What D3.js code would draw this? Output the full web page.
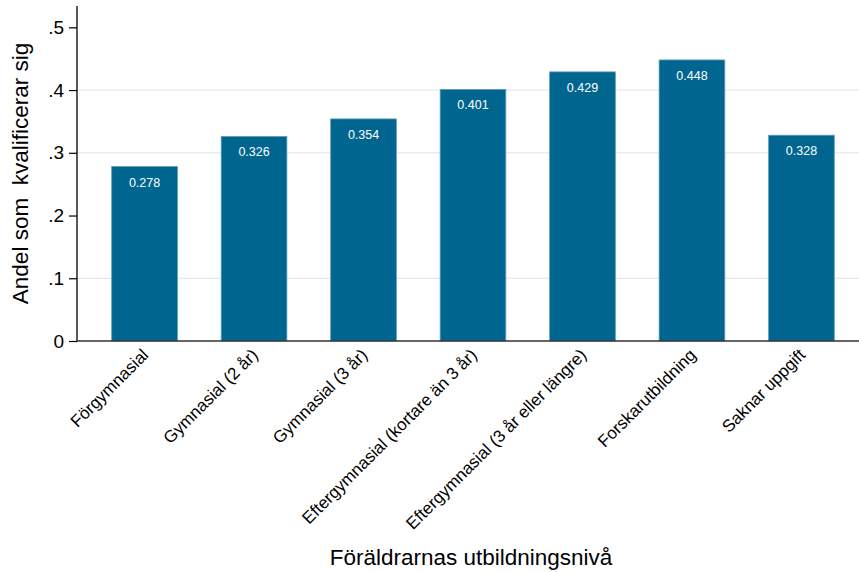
<!DOCTYPE html>
<html>
<head>
<meta charset="utf-8">
<script src="https://cdn.jsdelivr.net/npm/d3@7"></script>
<style>
  body { margin: 0; background: #fff; }
  text { font-family: "Liberation Sans", Arial, sans-serif; }
</style>
</head>
<body>
<script>
// data
const categories = [
  "Förgymnasial",
  "Gymnasial (2 år)",
  "Gymnasial (3 år)",
  "Eftergymnasial (kortare än 3 år)",
  "Eftergymnasial (3 år eller längre)",
  "Forskarutbildning",
  "Saknar uppgift"
];
const values = [0.278, 0.326, 0.354, 0.401, 0.429, 0.448, 0.328];
const yTicks = [0, 0.1, 0.2, 0.3, 0.4, 0.5];
const gridTicks = [0.1, 0.3, 0.4];

const W = 859, H = 572;
const mLeft = 77, mBottom = 341, mTop = 6;

const svg = d3.select("body").append("svg")
  .attr("width", W)
  .attr("height", H);

const x = d3.scaleBand()
  .domain(categories)
  .range([mLeft, 869])
  .paddingInner(0.4)
  .paddingOuter(0.317);

const y = d3.scaleLinear()
  .domain([0, 0.534])
  .range([mBottom, mTop]);

// grid lines
svg.append("g").selectAll("line")
  .data(gridTicks)
  .join("line")
  .attr("x1", mLeft).attr("x2", W)
  .attr("y1", d => y(d)).attr("y2", d => y(d))
  .attr("stroke", "#e2e2e2")
  .attr("stroke-width", 1);

// bars
svg.append("g").selectAll("rect")
  .data(values)
  .join("rect")
  .attr("x", (d, i) => x(categories[i]))
  .attr("y", d => y(d))
  .attr("width", x.bandwidth())
  .attr("height", d => mBottom - y(d))
  .attr("fill", "#00668f")
  .attr("stroke", "#5c9cbc")
  .attr("stroke-width", 0.8);

// value labels
svg.append("g").selectAll("text")
  .data(values)
  .join("text")
  .attr("x", (d, i) => x(categories[i]) + x.bandwidth() / 2)
  .attr("y", d => y(d) + 20)
  .attr("text-anchor", "middle")
  .attr("font-size", 12.5)
  .attr("fill", "#ffffff")
  .text(d => d.toFixed(3));

// y axis
const yAxis = d3.axisLeft(y)
  .tickValues(yTicks)
  .tickSize(8)
  .tickPadding(5)
  .tickFormat(d => d === 0 ? "0" : d3.format(".1f")(d).replace(/^0/, ""));

const gy = svg.append("g")
  .attr("transform", `translate(${mLeft},0)`)
  .call(yAxis);
gy.select(".domain").remove();
gy.selectAll(".tick line").attr("stroke", "#000").attr("stroke-width", 1.2);
gy.selectAll(".tick text").attr("font-size", 19).attr("fill", "#000")
  .attr("font-family", "Liberation Sans, Arial, sans-serif");
gy.append("line")
  .attr("x1", 0).attr("x2", 0)
  .attr("y1", mTop).attr("y2", mBottom)
  .attr("stroke", "#000").attr("stroke-width", 1.3);

// x axis
const xAxis = d3.axisBottom(x).tickSize(0).tickPadding(0);
const gx = svg.append("g")
  .attr("transform", `translate(0,${mBottom})`)
  .call(xAxis);
gx.select(".domain").remove();
gx.append("line")
  .attr("x1", mLeft).attr("x2", W)
  .attr("y1", 0).attr("y2", 0)
  .attr("stroke", "#333").attr("stroke-width", 1.3);
gx.selectAll(".tick text")
  .attr("font-size", 17)
  .attr("fill", "#000")
  .attr("font-family", "Liberation Sans, Arial, sans-serif")
  .attr("text-anchor", "end")
  .attr("dy", null)
  .attr("y", 0)
  .attr("transform", "translate(5,15) rotate(-45)");

// axis titles
svg.append("text")
  .attr("transform", `translate(28,${(mTop + mBottom) / 2}) rotate(-90)`)
  .attr("text-anchor", "middle")
  .attr("font-size", 22.5)
  .attr("fill", "#000")
  .style("white-space", "pre")
  .text("Andel som  kvalificerar sig");

svg.append("text")
  .attr("x", 471)
  .attr("y", 565)
  .attr("text-anchor", "middle")
  .attr("font-size", 22.5)
  .attr("fill", "#000")
  .text("Föräldrarnas utbildningsnivå");
</script>
</body>
</html>
